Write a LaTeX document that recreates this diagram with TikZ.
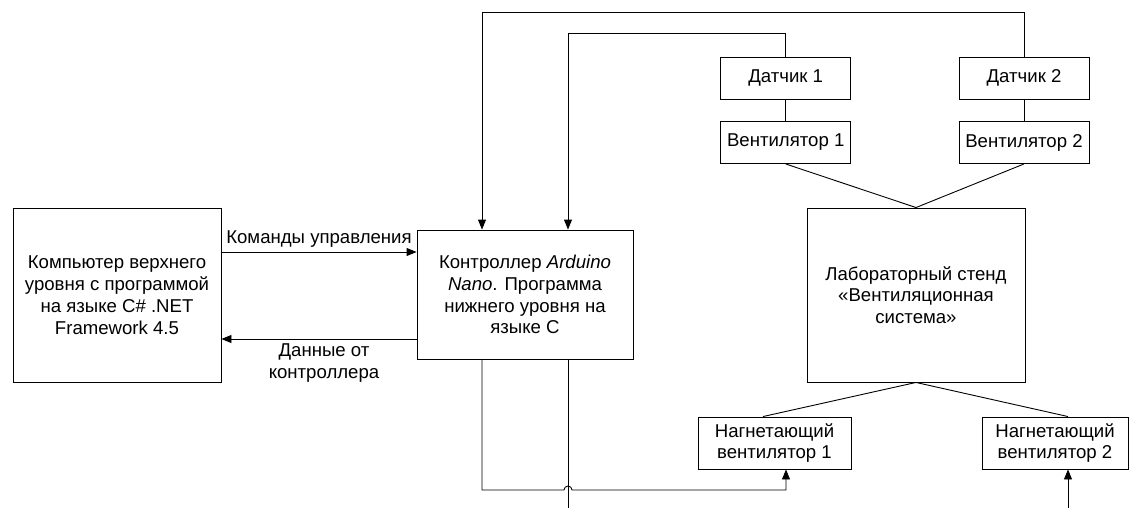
\documentclass[tikz,border=0pt]{standalone}
\usepackage{fontspec}
\setmainfont{Liberation Sans}
\usetikzlibrary{arrows.meta}
\begin{document}
\begin{tikzpicture}[x=1pt, y=-1pt, line width=0.9pt,
    font=\fontsize{18.6}{21.8}\selectfont,
    box/.style={draw, align=center, inner sep=0pt},
    arr/.style={-{Triangle[length=10pt,width=8pt]}}]

            \useasboundingbox (0,0) rectangle (1130,508);

            \node[box, minimum width=208, minimum height=174] (pc) at (117,295)
                {Компьютер верхнего\\уровня с программой\\на языке C\# .NET\\Framework 4.5};
            \node[box, minimum width=216, minimum height=129] (ctrl) at (525,294.5)
                {Контроллер \textit{Arduino}\\\textit{Nano}. Программа\\нижнего уровня на\\языке С};

            \node[box, minimum width=130, minimum height=42] (s1) at (785.7,78) {Датчик 1};
            \node[box, minimum width=130, minimum height=42] (v1) at (785.7,142.5) {Вентилятор 1};
            \node[box, minimum width=130, minimum height=42] (s2) at (1024,78) {Датчик 2};
            \node[box, minimum width=130, minimum height=42] (v2) at (1024,142.5) {Вентилятор 2};

            \node[box, minimum width=218, minimum height=174] (stand) at (916,295)
                {Лабораторный стенд\\«Вентиляционная\\система»};

            \node[box, minimum width=153, minimum height=52] (n1) at (774.5,443)
                {Нагнетающий\\вентилятор 1};
            \node[box, minimum width=146, minimum height=52] (n2) at (1055,443)
                {Нагнетающий\\вентилятор 2};

            \coordinate (cmd) at ([yshift=43pt]pc.east);
            \coordinate (dat) at ([yshift=-44.5pt]ctrl.west);
            \draw[arr] (cmd) -- (cmd -| ctrl.west) node[midway, above=1pt] {Команды управления};
            \draw[arr] (dat) -- (dat -| pc.east)
                node[midway, below=1pt, align=center, xshift=5pt] {Данные от\\контроллера};

            \draw[arr] (s2.north) -- ++(0,-44) -| ([xshift=-43pt]ctrl.north);
            \draw[arr] (s1.north) -- ++(0,-22.7) -| ([xshift=43pt]ctrl.north);
            \draw (s1) -- (v1);
            \draw (s2) -- (v2);
            \draw (v1.south) -- (stand.north);
            \draw (v2.south) -- (stand.north);
            \draw (stand.south) -- ([xshift=-11.5pt]n1.north);
            \draw (stand.south) -- ([xshift=13pt]n2.north);

            \coordinate (hop) at (564,490);
            \coordinate (out1) at (568,508);
            \coordinate (in2) at (1068,508);
            \draw[arr] ([xshift=-43pt]ctrl.south) |- (hop)
                arc[start angle=180, end angle=0, radius=4pt] -| ([xshift=11.5pt]n1.south);
            \draw ([xshift=43pt]ctrl.south) -- (out1);
            \draw[arr] (in2) -- (in2 |- n2.south);
        \end{tikzpicture}
\end{document}
